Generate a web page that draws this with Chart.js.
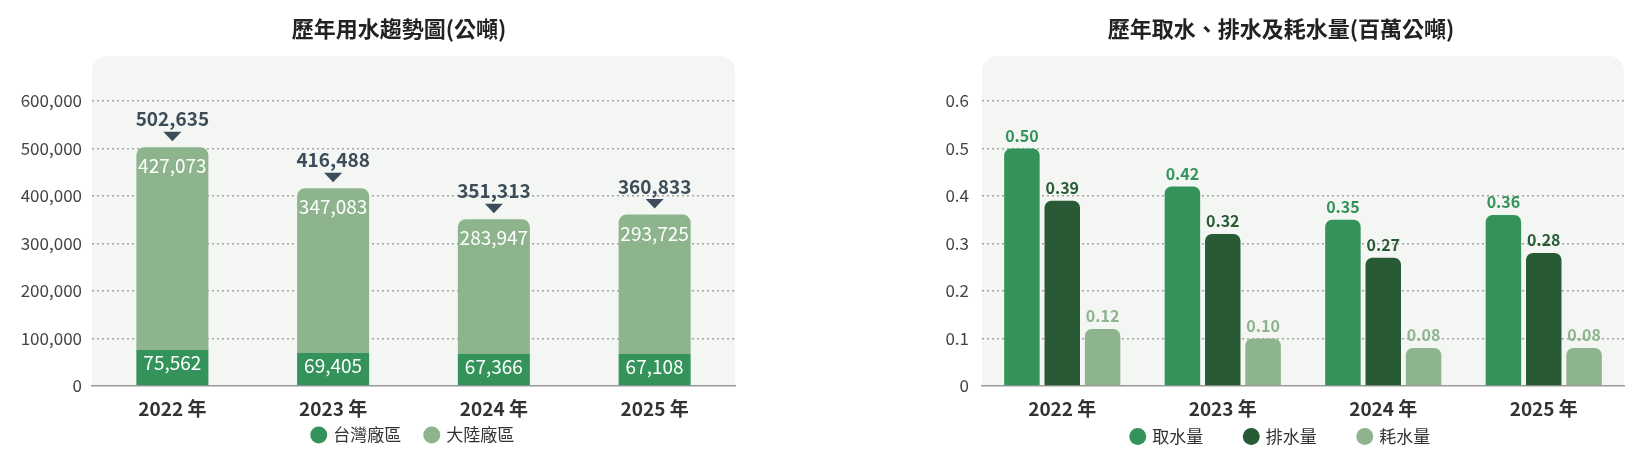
<!DOCTYPE html>
<html>
<head>
<meta charset="utf-8">
<script src="https://cdn.jsdelivr.net/npm/chart.js@4.4.1/dist/chart.umd.min.js"></script>
<style>
  body { margin: 0; background: #fff; }
  .box { position: absolute; top: 0; }
</style>
</head>
<body>
<div class="box" style="left:0"><canvas id="useChart" width="798" height="452"></canvas></div>
<div class="box" style="left:925px"><canvas id="flowChart" width="712" height="452"></canvas></div>
<script>
'use strict';
let years = ['2022 年', '2023 年', '2024 年', '2025 年'];

let taiwanUse = [75562, 69405, 67366, 67108];
let mainlandUse = [427073, 347083, 283947, 293725];
let totalUse = [502635, 416488, 351313, 360833];

let withdrawal = [0.50, 0.42, 0.35, 0.36];
let discharge = [0.39, 0.32, 0.27, 0.28];
let consumption = [0.12, 0.10, 0.08, 0.08];

let green = '#33935a';
let darkGreen = '#285b35';
let lightGreen = '#8db48d';

Chart.defaults.font.family = "'Noto Sans CJK TC', 'Noto Sans', sans-serif";
Chart.defaults.color = '#444';

// grey rounded panel behind the plot
let panelBg = {
  id: 'panelBg',
  beforeDraw(chart) {
    let a = chart.chartArea;
    let ctx = chart.ctx;
    ctx.save();
    ctx.fillStyle = '#f4f6f3';
    ctx.beginPath();
    ctx.roundRect(a.left, 56, a.right - a.left, a.bottom - 56, [15, 15, 0, 0]);
    ctx.fill();
    ctx.restore();
  }
};

function fmt(n) {
  return n.toLocaleString('en-US');
}

let useLabels = {
  id: 'useLabels',
  afterDatasetsDraw(chart) {
    let ctx = chart.ctx;
    let low = chart.getDatasetMeta(0).data;
    let top = chart.getDatasetMeta(1).data;
    ctx.save();
    ctx.textAlign = 'center';
    ctx.textBaseline = 'middle';
    for (let i = 0; i < low.length; i++) {
      ctx.fillStyle = '#fff';
      ctx.font = "19px 'Noto Sans CJK TC', sans-serif";
      ctx.fillText(fmt(taiwanUse[i]), low[i].x, low[i].y + 13);
      ctx.fillText(fmt(mainlandUse[i]), top[i].x, top[i].y + 19);

      let y = top[i].y;
      ctx.fillStyle = '#3c4d59';
      ctx.font = "bold 19px 'Noto Sans CJK TC', sans-serif";
      ctx.fillText(fmt(totalUse[i]), top[i].x, y - 28);
      ctx.beginPath();
      ctx.moveTo(top[i].x - 9, y - 15.5);
      ctx.lineTo(top[i].x + 9, y - 15.5);
      ctx.lineTo(top[i].x, y - 6);
      ctx.closePath();
      ctx.fill();
    }
    ctx.restore();
  }
};

let flowLabels = {
  id: 'flowLabels',
  afterDatasetsDraw(chart) {
    let ctx = chart.ctx;
    ctx.save();
    ctx.textAlign = 'center';
    ctx.textBaseline = 'middle';
    ctx.font = "bold 16px 'Noto Sans CJK TC', sans-serif";
    chart.data.datasets.forEach((ds, d) => {
      chart.getDatasetMeta(d).data.forEach((bar, i) => {
        ctx.fillStyle = ds.backgroundColor;
        ctx.fillText(ds.data[i].toFixed(2), bar.x, bar.y - 13);
      });
    });
    ctx.restore();
  }
};

function gridColor(c) {
  return c.tick && c.tick.value === 0 ? 'rgba(0,0,0,0)' : '#a3a3a3';
}

function legendOpts(pad, maxH) {
  return {
    position: 'bottom',
    maxHeight: maxH,
    labels: {
      usePointStyle: true,
      pointStyle: 'circle',
      boxWidth: 12,
      boxHeight: 12,
      padding: pad,
      color: '#333',
      font: { size: 17 }
    }
  };
}

function titleOpts(text) {
  return {
    display: true,
    text: text,
    color: '#222',
    font: { size: 22, weight: 'bold' },
    padding: { top: 15, bottom: 59.6 }
  };
}

function xAxis(h, stacked) {
  return {
    stacked: stacked,
    grid: { display: false, drawTicks: false },
    border: { display: true, color: '#9a9a9a', width: 1.5 },
    ticks: { mirror: true, padding: -34, color: '#333', font: { size: 19, weight: 'bold' } },
    afterFit(s) { s.height = h; }
  };
}

// empty box on the right so the title sits where it does in the picture
function spacer(w) {
  return {
    position: 'right',
    grid: { display: false },
    border: { display: false },
    ticks: { display: false },
    afterFit(s) { s.width = w; }
  };
}

let useCtx = document.getElementById('useChart').getContext('2d');
new Chart(useCtx, {
  type: 'bar',
  data: {
    labels: years,
    datasets: [{
      label: '台灣廠區',
      data: taiwanUse,
      backgroundColor: green,
      borderRadius: 0,
      borderSkipped: false
    },
    {
      label: '大陸廠區',
      data: mainlandUse,
      backgroundColor: lightGreen,
      borderRadius: { topLeft: 8, topRight: 8, bottomLeft: 0, bottomRight: 0 },
      borderSkipped: false
    }]
  },
  options: {
    responsive: false,
    animation: false,
    layout: { padding: 0 },
    datasets: { bar: { categoryPercentage: 1, barPercentage: 0.448 } },
    scales: {
      x: xAxis(16, true),
      y: {
        stacked: true,
        min: 0,
        max: 600000,
        grid: { color: gridColor, lineWidth: 1.5, drawTicks: false },
        border: { display: false, dash: [2, 3] },
        ticks: {
          stepSize: 100000,
          padding: 10,
          color: '#444',
          font: { size: 17 },
          callback: (v) => fmt(v)
        },
        afterFit(s) { s.width = 92; }
      },
      pad: spacer(63)
    },
    plugins: {
      title: titleOpts('歷年用水趨勢圖(公噸)'),
      legend: Object.assign(legendOpts(24.5, 50), { fullSize: false }),
      tooltip: { enabled: false }
    }
  },
  plugins: [panelBg, useLabels]
});

let flowCtx = document.getElementById('flowChart').getContext('2d');
new Chart(flowCtx, {
  type: 'bar',
  data: {
    labels: years,
    datasets: [{
      label: '取水量',
      data: withdrawal,
      backgroundColor: green
    },
    {
      label: '排水量',
      data: discharge,
      backgroundColor: darkGreen
    },
    {
      label: '耗水量',
      data: consumption,
      backgroundColor: lightGreen
    }]
  },
  options: {
    responsive: false,
    animation: false,
    layout: { padding: 0 },
    datasets: {
      bar: {
        categoryPercentage: 0.754,
        barPercentage: 0.88,
        borderRadius: { topLeft: 7, topRight: 7, bottomLeft: 0, bottomRight: 0 },
        borderSkipped: false
      }
    },
    scales: {
      x: xAxis(0, false),
      y: {
        min: 0,
        max: 0.6,
        grid: { color: gridColor, lineWidth: 1.5, drawTicks: false },
        border: { display: false, dash: [2, 3] },
        ticks: { stepSize: 0.1, padding: 13, color: '#444', font: { size: 17 } },
        afterFit(s) { s.width = 57; }
      },
      pad: spacer(13)
    },
    plugins: {
      title: titleOpts('歷年取水、排水及耗水量(百萬公噸)'),
      legend: legendOpts(42, 66),
      tooltip: { enabled: false }
    }
  },
  plugins: [panelBg, flowLabels]
});
</script>
</body>
</html>
